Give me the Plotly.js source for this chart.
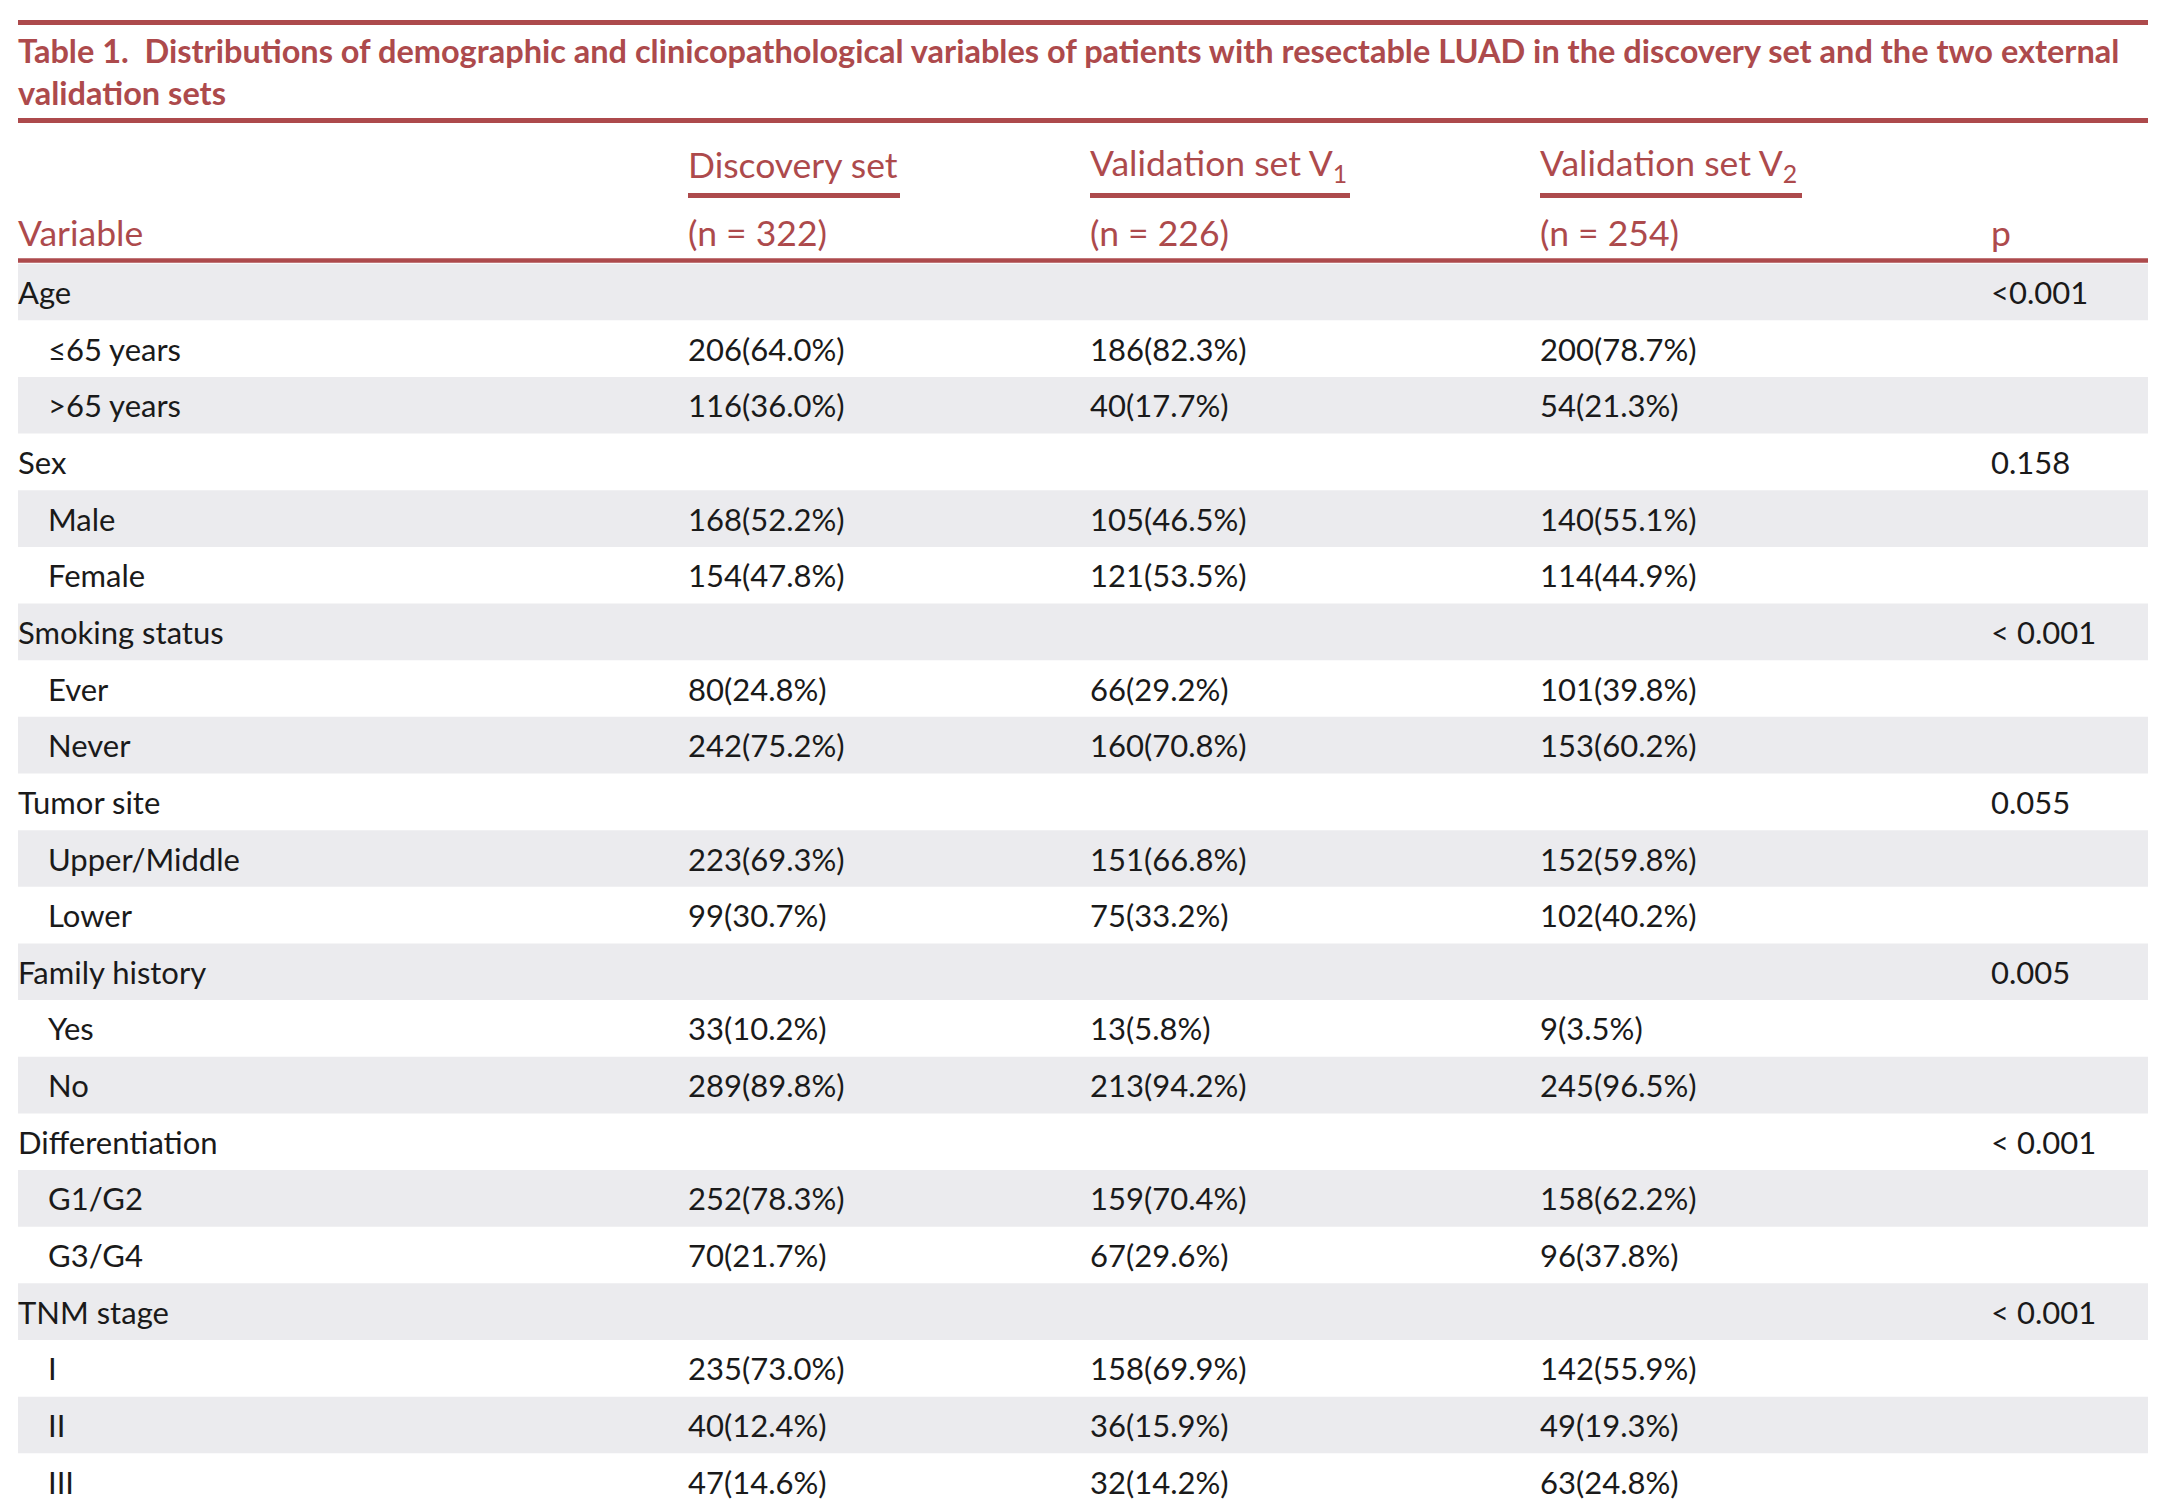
<!DOCTYPE html>
<html>
<head>
<meta charset="utf-8">
<script src="https://cdn.plot.ly/plotly-3.0.1.min.js"></script>
<style>html,body{margin:0;padding:0;background:#ffffff;}</style>
</head>
<body>
<div id="chart" style="width:2172px;height:1506px;"></div>
<script>
// ---------- data ----------
const titleLine1 = "Table 1.\u00a0 Distributions of demographic and clinicopathological variables of patients with resectable LUAD in the discovery set and the two external";
const titleLine2 = "validation sets";
const firstHeader = "Variable";
const pHeader = "p";
const setNames = ["Discovery set", "Validation set V<sub>1</sub>", "Validation set V<sub>2</sub>"];
const setSizes = [322, 226, 254];

const groups = ["Age", "Sex", "Smoking status", "Tumor site", "Family history", "Differentiation", "TNM stage"];
const pValues = ["<0.001", "0.158", "< 0.001", "0.055", "0.005", "< 0.001", "< 0.001"];
const levelsPerGroup = [2, 2, 2, 2, 2, 2, 3];
const levels = ["\u226465 years", ">65 years", "Male", "Female", "Ever", "Never", "Upper/Middle", "Lower",
                "Yes", "No", "G1/G2", "G3/G4", "I", "II", "III"];

const discoveryN   = [206, 116, 168, 154, 80, 242, 223, 99, 33, 289, 252, 70, 235, 40, 47];
const discoveryPct = [64.0, 36.0, 52.2, 47.8, 24.8, 75.2, 69.3, 30.7, 10.2, 89.8, 78.3, 21.7, 73.0, 12.4, 14.6];
const v1N   = [186, 40, 105, 121, 66, 160, 151, 75, 13, 213, 159, 67, 158, 36, 32];
const v1Pct = [82.3, 17.7, 46.5, 53.5, 29.2, 70.8, 66.8, 33.2, 5.8, 94.2, 70.4, 29.6, 69.9, 15.9, 14.2];
const v2N   = [200, 54, 140, 114, 101, 153, 152, 102, 9, 245, 158, 96, 142, 49, 63];
const v2Pct = [78.7, 21.3, 55.1, 44.9, 39.8, 60.2, 59.8, 40.2, 3.5, 96.5, 62.2, 37.8, 55.9, 19.3, 24.8];

// ---------- style / geometry ----------
const W = 2172, H = 1506;
const RED = "#ad4a4c";
const GRAY = "#ebebee";
const TXT = "#1a1a1a";
const FONT = 'Lato, "Open Sans", "Noto Sans", sans-serif';
const tableLeft = 18, tableRight = 2148;
const colX = {label: 18, indent: 48, sets: [688, 1090, 1540], p: 1991};
const underlineEnds = [900, 1350, 1802];
const row0Px = 292, rowPitch = 56.65;
const bodySize = 31, headSize = 35.5, titleSize = 32.5;

function py(px) { return 1 - px / H; } // paper y from pixel

// ---------- build rows ----------
const rows = [];
let li = 0;
groups.forEach((g, gi) => {
  rows.push({label: g, indent: false, cells: ["", "", ""], p: pValues[gi]});
  for (let k = 0; k < levelsPerGroup[gi]; k++) {
    const fmt = (n, p) => n[li] + "(" + p[li].toFixed(1) + "%)";
    rows.push({label: levels[li], indent: true,
      cells: [fmt(discoveryN, discoveryPct), fmt(v1N, v1Pct), fmt(v2N, v2Pct)], p: ""});
    li++;
  }
});

const annotations = [];
const shapes = [];

// row bands
rows.forEach((r, i) => {
  if (i % 2 === 0) {
    shapes.push({type: "rect", xref: "x", yref: "y", x0: tableLeft, x1: tableRight,
      y0: i - 0.5, y1: i + 0.5, fillcolor: GRAY, line: {width: 0}, layer: "below"});
  }
});

function addText(text, x, y, size, color, yref, extra) {
  annotations.push(Object.assign({
    text: text, x: x, y: y, xref: "x", yref: yref, xanchor: "left", yanchor: "middle",
    showarrow: false, align: "left", borderpad: 0, borderwidth: 0,
    font: {family: FONT, size: size, color: color}
  }, extra || {}));
}

rows.forEach((r, i) => {
  const yv = i;
  addText(r.label, r.indent ? colX.indent : colX.label, yv, bodySize, TXT, "y");
  r.cells.forEach((c, j) => { if (c) addText(c, colX.sets[j], yv, bodySize, TXT, "y"); });
  if (r.p) addText(r.p, colX.p, yv, bodySize, TXT, "y");
});

// title
addText("<b>" + titleLine1 + "</b>", colX.label, py(51), titleSize, RED, "paper");
addText("<b>" + titleLine2 + "</b>", colX.label, py(93), titleSize, RED, "paper");

// headers
setNames.forEach((s, j) => {
  addText(s, colX.sets[j], py(164), headSize, RED, "paper");
  addText("(n = " + setSizes[j] + ")", colX.sets[j], py(233), headSize, RED, "paper");
  shapes.push({type: "line", xref: "x", yref: "paper", x0: colX.sets[j], x1: underlineEnds[j],
    y0: py(195.5), y1: py(195.5), line: {color: RED, width: 5}});
});
addText(firstHeader, colX.label, py(233), headSize, RED, "paper");
addText(pHeader, colX.p, py(233), headSize, RED, "paper");

// rules
[22.5, 120.5].forEach(v => shapes.push({type: "line", xref: "x", yref: "paper",
  x0: tableLeft, x1: tableRight, y0: py(v), y1: py(v), line: {color: RED, width: 5}}));
shapes.push({type: "line", xref: "x", yref: "paper", x0: tableLeft, x1: tableRight,
  y0: py(260.5), y1: py(260.5), line: {color: RED, width: 4.5}});

const yTop = -row0Px / rowPitch;
const yBottom = (H - row0Px) / rowPitch;

const layout = {
  width: W, height: H,
  margin: {l: 0, r: 0, t: 0, b: 0, pad: 0},
  paper_bgcolor: "#ffffff", plot_bgcolor: "#ffffff",
  showlegend: false,
  xaxis: {range: [0, W], visible: false, fixedrange: true},
  yaxis: {range: [yBottom, yTop], visible: false, fixedrange: true},
  shapes: shapes,
  annotations: annotations
};

Plotly.newPlot("chart", [{type: "scatter", x: [], y: [], mode: "markers", hoverinfo: "skip"}], layout,
  {displayModeBar: false, staticPlot: true});
</script>
</body>
</html>
